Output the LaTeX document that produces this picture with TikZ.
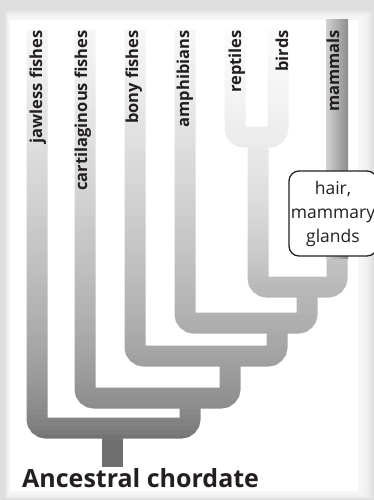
\documentclass[tikz,border=0pt]{standalone}
\usepackage{fontspec}
\setmainfont{Open Sans}
\definecolor{ink}{HTML}{231F20}
\definecolor{branch}{HTML}{6E6E6E}
\begin{document}
\begin{tikzpicture}[x=1pt,y=-1pt,
  br/.style={line width=21pt, draw=branch, rounded corners=9pt, line cap=butt},
  lab/.style={rotate=90, anchor=east, inner sep=0pt, text=ink,
    font=\bfseries\fontsize{16.5}{16.5}\selectfont, text height=12pt, text depth=4pt},
  traitbox/.style={draw=ink, line width=1.3pt, fill=white, rounded corners=10pt,
    minimum width=88pt, minimum height=85pt, inner sep=0pt, align=center,
    font=\fontsize{17.5}{24}\selectfont, text=ink}]
\useasboundingbox (0,0) rectangle (374,500);
\clip (0,0) rectangle (374,500);
% frame with soft shadow
\fill[black!13] (0,0) rectangle (374,500);
\foreach \d in {1,...,8}
  \fill[white, fill opacity=0.18] ({10-\d*0.6},{20-\d*1.2}) rectangle ({360+\d*1.6},{492+\d*0.9});
\fill[white] (10,20) rectangle (358,491);
% coordinates of leaves and branch points
\coordinate (jaw) at (37,30);
\coordinate (car) at (85,30);
\coordinate (bon) at (135,30);
\coordinate (amp) at (185,30);
\coordinate (rep) at (235,30);
\coordinate (bir) at (278,30);
\coordinate (mam) at (337,30);
\coordinate (nRB) at (258,137);
\coordinate (nAm) at (307,287);
\coordinate (nTe) at (277,323);
\coordinate (nOs) at (230,356);
\coordinate (nGn) at (190,398);
\coordinate (nCh) at (112,428);
\coordinate (root) at (112,467);
% branches
\draw[br] (rep) -- (rep |- nRB) -- (bir |- nRB) -- (bir);
\draw[br] (nRB) -- (nRB |- nAm) -- (mam |- nAm) -- (mam);
\draw[br] (amp) -- (amp |- nTe) -- (nAm |- nTe) -- (nAm);
\draw[br] (bon) -- (bon |- nOs) -- (nTe |- nOs) -- (nTe);
\draw[br] (car) -- (car |- nGn) -- (nOs |- nGn) -- (nOs);
\draw[br] (jaw) -- (jaw |- nCh) -- (nGn |- nCh) -- (nGn);
\draw[br] (nCh) -- (root);
% fade towards the top (stacked strips)
\foreach \y in {20,25,...,435} {
  \pgfmathsetmacro\op{0.96*((437.5-\y)/420)^0.6}
  \fill[white, fill opacity=\op] (10,\y) rectangle (358,\y+5);
}
\foreach \y in {20,25,...,275} {
  \pgfmathsetmacro\op{0.6*((277.5-\y)/260)^0.7}
  \fill[white, fill opacity=\op] (214,\y) rectangle (300,\y+5);
}
% mammal lineage
\shade[left color=black!18, right color=black!45] (326,20) rectangle (348,258);
% labels
\node[lab] (Ljaw) at (38,30) {jawless fishes};
\node[lab] (Lcar) at (83,30) {cartilaginous fishes};
\node[lab] (Lbon) at (134,30) {bony fishes};
\node[lab] (Lamp) at (185,30) {amphibians};
\node[lab] (Lrep) at (237,30) {reptiles};
\node[lab] (Lbir) at (284,30) {birds};
\node[lab] (Lmam) at (335,30) {mammals};
\node[traitbox] (traits) at (333,213.5) {hair,\\mammary\\glands};
\node[anchor=base west, inner sep=0pt, text=ink,
  font=\bfseries\fontsize{25}{25}\selectfont] (anc) at (22,487) {Ancestral chordate};
\end{tikzpicture}
\end{document}
